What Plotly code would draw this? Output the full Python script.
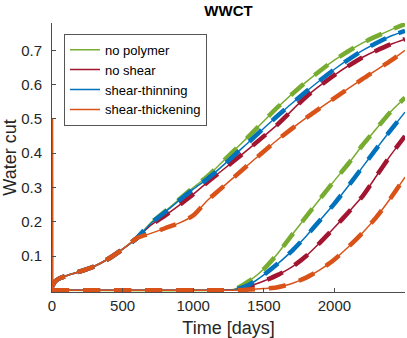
import plotly.graph_objects as go

# time axis [days]
t_top = [0, 20, 50, 100, 200, 300, 400, 500, 600, 700, 800, 900, 1000, 1100,
         1200, 1400, 1600, 1800, 2000, 2200, 2400, 2500]
t_bot = [0, 1200, 1300, 1400, 1500, 1600, 1700, 1800, 1900, 2000, 2100,
         2200, 2300, 2400, 2500]

# well 1 (early breakthrough)
top_no_polymer = [0.01, 0.025, 0.034, 0.042, 0.055, 0.07, 0.092, 0.12, 0.152, 0.197, 0.23,
                  0.265, 0.3, 0.332, 0.372, 0.452, 0.535, 0.608, 0.672, 0.722, 0.76, 0.777]
top_no_shear = [0.01, 0.025, 0.034, 0.042, 0.055, 0.07, 0.092, 0.12, 0.152, 0.19, 0.218,
                0.248, 0.28, 0.315, 0.348, 0.415, 0.485, 0.565, 0.628, 0.68, 0.718, 0.733]
top_thinning = [0.01, 0.025, 0.034, 0.042, 0.055, 0.07, 0.092, 0.12, 0.152, 0.195, 0.228,
                0.262, 0.295, 0.325, 0.36, 0.435, 0.51, 0.58, 0.645, 0.70, 0.742, 0.757]
top_thickening = [0.01, 0.025, 0.034, 0.042, 0.055, 0.07, 0.092, 0.12, 0.152, 0.166, 0.181,
                  0.196, 0.218, 0.262, 0.298, 0.37, 0.44, 0.503, 0.561, 0.617, 0.67, 0.70]

# well 2 (late breakthrough)
bot_no_polymer = [0, 0, 0.004, 0.028, 0.062, 0.108, 0.162, 0.215, 0.268, 0.32, 0.37,
                  0.424, 0.473, 0.522, 0.562]
bot_no_shear = [0, 0, 0.002, 0.012, 0.027, 0.045, 0.068, 0.1, 0.14, 0.183, 0.228,
                0.275, 0.335, 0.395, 0.45]
bot_thinning = [0, 0, 0.002, 0.017, 0.045, 0.078, 0.115, 0.158, 0.205, 0.253, 0.305,
                0.36, 0.415, 0.468, 0.52]
bot_thickening = [0, 0, 0, 0.002, 0.005, 0.009, 0.02, 0.037, 0.06, 0.09, 0.127,
                  0.168, 0.215, 0.27, 0.33]

# initial spike of the shear-thickening run
spike_t = [4, 6]
spike_wc = [0.5, 0.0]

names = ["no polymer", "no shear", "shear-thinning", "shear-thickening"]
colors = ["#77AC30", "#A2142F", "#0072BD", "#D95319"]
top = [top_no_polymer, top_no_shear, top_thinning, top_thickening]
bot = [bot_no_polymer, bot_no_shear, bot_thinning, bot_thickening]

fig = go.Figure()
for name, c, yt, yb in zip(names, colors, top, bot):
    fig.add_trace(go.Scatter(x=t_top, y=yt, mode="lines", name=name, legendgroup=name,
                             line=dict(color=c, width=1.5, shape="spline", smoothing=0.6)))
    fig.add_trace(go.Scatter(x=t_bot, y=yb, mode="lines", name=name, legendgroup=name,
                             showlegend=False,
                             line=dict(color=c, width=1.5, shape="spline", smoothing=0.6)))
    for yy, tt in ((yt, t_top), (yb, t_bot)):
        fig.add_trace(go.Scatter(x=tt, y=yy, mode="lines", showlegend=False, hoverinfo="skip",
                                 line=dict(color=c, width=4.5, dash="17px,14px",
                                           shape="spline", smoothing=0.6)))

fig.add_trace(go.Scatter(x=spike_t, y=spike_wc, mode="lines", showlegend=False,
                         line=dict(color=colors[3], width=1.5)))

axis_col = "#4d4d4d"
fig.update_layout(
    width=407, height=338,
    margin=dict(l=52, r=2, t=23, b=46),
    paper_bgcolor="white", plot_bgcolor="white",
    font=dict(family="Liberation Sans, Arial, sans-serif", color="#262626", size=15),
    title=dict(text="<b>WWCT</b>", x=0.5, xref="paper", y=0.968, yref="container",
               yanchor="middle", font=dict(size=15, color="#000")),
    xaxis=dict(range=[0, 2500], tickvals=[0, 500, 1000, 1500, 2000],
               showline=True, linecolor=axis_col, linewidth=1, mirror=False,
               ticks="inside", ticklen=4, tickcolor=axis_col, showgrid=False, zeroline=False,
               automargin=False,
               title=dict(text="Time [days]", standoff=10)),
    yaxis=dict(range=[-0.005, 0.78], tickvals=[0.1, 0.2, 0.3, 0.4, 0.5, 0.6, 0.7],
               showline=True, linecolor=axis_col, linewidth=1, mirror=False,
               ticks="inside", ticklen=4, tickcolor=axis_col, showgrid=False, zeroline=False,
               ticklabelstandoff=6, automargin=False,
               title=dict(text="Water cut", standoff=14)),
    legend=dict(x=0.034, y=0.96, xanchor="left", yanchor="top",
                bgcolor="white", bordercolor="#555", borderwidth=1,
                font=dict(size=13, color="#000"), tracegroupgap=0),
    showlegend=True,
)

# drop the default page margin so the figure sits at the window's corner
fig.write_html("out.html", config={"displayModeBar": False},
               post_script="document.body.style.margin = '0px';")
